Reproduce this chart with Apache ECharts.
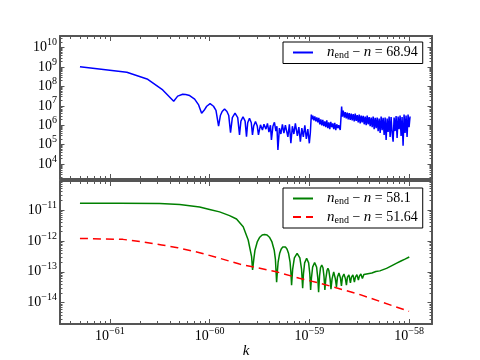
<!DOCTYPE html>
<html>
<head>
<meta charset="utf-8">
<script src="https://cdn.jsdelivr.net/npm/echarts@6/dist/echarts.min.js"></script>
<style>html,body{margin:0;padding:0;background:#fff;}#c{width:480px;height:360px;}</style>
</head>
<body>
<div id="c"></div>
<script>
// ---- Data (log10 values) ----
// x: log10(k), y: log10(value)
var blueSeries = [
 [-61.30,9.02],[-60.83,8.73],[-60.62,8.37],[-60.47,7.82],[-60.36,7.24],[-60.32,7.50],[-60.27,7.60],
 [-60.24,7.58],[-60.20,7.53],[-60.15,7.35],[-60.11,7.05],[-60.08,6.62],
 [-60.055,6.77],[-60.029,6.98],[-59.995,7.11],[-59.961,6.98],[-59.936,6.77],[-59.91,5.96],
 [-59.892,6.50],[-59.874,6.71],[-59.85,6.84],[-59.826,6.71],[-59.808,6.50],[-59.79,5.62],
 [-59.772,6.39],[-59.745,6.62],[-59.718,6.39],[-59.70,5.50],
 [-59.686,6.21],[-59.665,6.44],[-59.644,6.21],[-59.63,5.41],
 [-59.618,6.13],[-59.60,6.36],[-59.582,6.13],[-59.57,5.50],
 [-59.558,5.96],[-59.54,6.19],[-59.522,5.96],[-59.51,5.50],[-59.49,6.02],
 [-59.47,5.75],[-59.455,6.05],[-59.435,5.80],[-59.42,6.10],[-59.405,5.65],[-59.39,6.00],[-59.38,5.24],
 [-59.365,5.95],[-59.35,6.15],[-59.335,5.70],[-59.325,5.95],[-59.315,4.73],[-59.30,5.85],[-59.285,5.55],
 [-59.27,6.05],[-59.255,5.60],[-59.24,6.00],[-59.23,5.93],[-59.215,5.40],[-59.20,6.05],[-59.185,5.07],
 [-59.17,5.95],[-59.155,5.55],[-59.14,6.10],[-59.12,5.45],[-59.105,5.90],[-59.09,5.15],[-59.075,5.85],
 [-59.06,5.40],[-59.045,6.00],[-59.03,5.30],[-59.015,5.80],[-59.00,5.07],[-58.99,5.60],
 [-58.98,6.55],[-58.975,6.30],[-58.965,6.50],[-58.955,6.25],[-58.945,6.45],[-58.935,6.20],[-58.925,6.40],
 [-58.915,6.15],[-58.905,6.38],[-58.895,6.05],[-58.885,6.30],[-58.875,6.00],[-58.865,6.28],[-58.855,5.95],
 [-58.845,6.20],[-58.835,5.90],[-58.825,6.25],[-58.815,5.85],[-58.805,6.15],[-58.795,5.80],[-58.785,6.18],
 [-58.775,5.90],[-58.765,6.10],[-58.755,5.80],[-58.745,6.12],[-58.735,5.75],[-58.725,6.05],[-58.715,5.85],
 [-58.705,6.00],[-58.69,5.76],
 [-58.676,6.96],[-58.67,6.45],[-58.66,6.75],[-58.65,6.40],[-58.64,6.68],[-58.63,6.35],[-58.62,6.65],
 [-58.61,6.30],[-58.60,6.62],[-58.59,6.28],[-58.58,6.60],[-58.57,6.25],[-58.56,6.58],[-58.55,6.20],
 [-58.54,6.60],[-58.53,6.22],[-58.52,6.52],[-58.51,6.15],[-58.50,6.55],[-58.49,6.10],[-58.48,6.50],
 [-58.47,6.15],[-58.46,6.48],[-58.45,6.05],[-58.44,6.45],[-58.43,6.00],[-58.42,6.50],[-58.41,6.05],
 [-58.40,6.42],[-58.39,5.95],[-58.38,6.40],[-58.37,5.90],[-58.36,6.45],[-58.35,5.80],[-58.34,6.38],
 [-58.33,5.85],[-58.32,6.40],[-58.31,5.70],[-58.30,6.35],[-58.29,5.60],[-58.28,6.45],[-58.27,5.75],
 [-58.26,6.38],[-58.25,5.50],[-58.24,6.40],[-58.23,5.24],[-58.22,6.35],[-58.21,5.65],[-58.20,6.45],
 [-58.19,5.40],[-58.18,6.42],[-58.17,5.60],[-58.16,5.15],[-58.15,6.40],[-58.14,5.70],[-58.13,6.48],
 [-58.12,5.35],[-58.11,6.45],[-58.10,5.80],[-58.09,6.50],[-58.08,5.45],[-58.07,6.42],[-58.06,4.95],
 [-58.05,6.55],[-58.04,5.60],[-58.03,6.50],[-58.02,5.40],[-58.01,6.55],[-58.00,5.90],[-57.99,6.45]
];
var greenSeries = [
 [-61.30,-10.78],[-60.90,-10.78],[-60.50,-10.79],[-60.30,-10.82],[-60.10,-10.90],[-60.00,-10.98],
 [-59.90,-11.06],[-59.80,-11.18],[-59.73,-11.29],[-59.663,-11.54],[-59.613,-11.97],[-59.579,-12.51],
 [-59.569,-12.94],
 [-59.557,-12.60],[-59.545,-12.30],[-59.521,-12.02],[-59.497,-11.88],[-59.473,-11.81],[-59.449,-11.79],
 [-59.424,-11.81],[-59.400,-11.88],[-59.376,-12.02],[-59.352,-12.30],[-59.340,-12.60],[-59.328,-13.34],
 [-59.3205,-12.99],[-59.313,-12.69],[-59.298,-12.41],[-59.283,-12.27],[-59.268,-12.20],[-59.253,-12.18],
 [-59.238,-12.20],[-59.223,-12.27],[-59.208,-12.41],[-59.193,-12.69],[-59.1855,-12.99],[-59.178,-13.43],
 [-59.167,-12.91],[-59.150,-12.55],[-59.1225,-12.40],[-59.095,-12.55],[-59.078,-12.91],[-59.067,-13.53],
 [-59.059,-13.07],[-59.047,-12.71],[-59.027,-12.56],[-59.007,-12.71],[-58.995,-13.07],[-58.987,-13.59],
 [-58.979,-13.21],[-58.967,-12.85],[-58.947,-12.70],[-58.927,-12.85],[-58.915,-13.21],[-58.907,-13.66],
 [-58.8975,-13.13],[-58.888,-12.87],[-58.8755,-12.78],[-58.863,-12.87],[-58.8535,-13.13],[-58.844,-13.59],
 [-58.835,-13.23],[-58.823,-12.96],[-58.8135,-12.89],[-58.804,-12.96],[-58.792,-13.23],[-58.783,-13.56],
 [-58.772,-13.23],[-58.7555,-13.00],[-58.739,-13.23],[-58.728,-13.49],
 [-58.718,-13.17],[-58.703,-13.04],[-58.688,-13.20],[-58.678,-13.46],
 [-58.668,-13.17],[-58.653,-13.07],[-58.638,-13.23],[-58.628,-13.43],[-58.618,-13.17],[-58.603,-13.10],
 [-58.588,-13.36],[-58.578,-13.17],[-58.563,-13.10],[-58.548,-13.33],[-58.538,-13.17],[-58.523,-13.09],
 [-58.508,-13.27],[-58.498,-13.14],[-58.483,-13.07],[-58.468,-13.22],[-58.453,-13.09],[-58.433,-13.14],
 [-58.413,-13.06],[-58.373,-13.04],[-58.333,-12.99],[-58.293,-12.97],[-58.226,-12.89],[-58.172,-12.80],
 [-58.124,-12.72],[-58.081,-12.65],[-58.041,-12.59],[-57.998,-12.52]
];
var redSeries = [
 [-61.30,-11.92],[-60.87,-11.95],[-60.67,-12.03],[-60.48,-12.13],[-60.32,-12.22],[-60.10,-12.38],
 [-59.90,-12.56],[-59.70,-12.75],[-59.33,-13.00],[-59.10,-13.21],[-58.89,-13.37],[-58.49,-13.74],
 [-58.00,-14.28]
];
var seriesNames = ['s1', 's2', 's3'];
var legendValues = { s1: '68.94', s2: '58.1', s3: '51.64' };
var xMajorTicks = [-61, -60, -59, -58];
var topYMajorTicks = [4, 5, 6, 7, 8, 9, 10];
var botYMajorTicks = [-14, -13, -12, -11];

// ---- Layout / style ----
var X_MIN = -61.5, X_MAX = -57.77;
var TOP_Y = [3.23, 10.60];
var BOT_Y = [-14.69, -10.06];
var SERIF = 'Liberation Serif';
var SPINE = '#555';

function minorTicks(lo, hi) {
  var out = [];
  for (var n = Math.floor(lo) - 1; n <= Math.ceil(hi); n++) {
    for (var m = 2; m <= 9; m++) {
      var v = n + Math.log10(m);
      if (v > lo && v < hi) out.push(v);
    }
  }
  return out;
}
function fmt(v) {
  var e = Math.round(v);
  return '{b|10}{s|' + (e < 0 ? '\u2212' + (-e) : String(e)) + '}';
}
var RICH = {
  b: { fontFamily: SERIF, fontSize: 14, lineHeight: 20, color: '#000' },
  s: { fontFamily: SERIF, fontSize: 10, lineHeight: 9, verticalAlign: 'top', color: '#000' }
};

function xAxis(grid, pos, minor, labels) {
  return {
    type: 'value', gridIndex: grid, position: pos, min: X_MIN, max: X_MAX,
    axisLine: { show: !minor, onZero: false, lineStyle: { color: SPINE, width: 2 } },
    axisTick: { show: true, inside: true, length: minor ? 3 : 5,
      customValues: minor ? minorTicks(X_MIN, X_MAX) : xMajorTicks,
      lineStyle: { color: SPINE, width: 1 } },
    axisLabel: { show: !!labels, customValues: xMajorTicks, formatter: fmt, margin: 2, rich: RICH },
    splitLine: { show: false },
    name: labels ? 'k' : '', nameLocation: 'middle', nameGap: 18,
    nameTextStyle: { fontFamily: SERIF, fontStyle: 'italic', fontSize: 15, color: '#000' }
  };
}
function yAxis(grid, pos, minor, labels, range, major) {
  return {
    type: 'value', gridIndex: grid, position: pos, min: range[0], max: range[1],
    axisLine: { show: !minor, onZero: false, lineStyle: { color: SPINE, width: 2 } },
    axisTick: { show: true, inside: true, length: minor ? 2.5 : 4.5,
      customValues: minor ? minorTicks(range[0], range[1]) : major,
      lineStyle: { color: SPINE, width: 1 } },
    axisLabel: { show: !!labels, customValues: major, formatter: fmt, margin: 3, rich: RICH },
    splitLine: { show: false }
  };
}

var xAxes = [
  xAxis(0, 'bottom', false, false), xAxis(0, 'bottom', true, false),
  xAxis(0, 'top', false, false), xAxis(0, 'top', true, false),
  xAxis(1, 'bottom', false, true), xAxis(1, 'bottom', true, false),
  xAxis(1, 'top', false, false), xAxis(1, 'top', true, false)
];
var yAxes = [
  yAxis(0, 'left', false, true, TOP_Y, topYMajorTicks), yAxis(0, 'left', true, false, TOP_Y, topYMajorTicks),
  yAxis(0, 'right', false, false, TOP_Y, topYMajorTicks), yAxis(0, 'right', true, false, TOP_Y, topYMajorTicks),
  yAxis(1, 'left', false, true, BOT_Y, botYMajorTicks), yAxis(1, 'left', true, false, BOT_Y, botYMajorTicks),
  yAxis(1, 'right', false, false, BOT_Y, botYMajorTicks), yAxis(1, 'right', true, false, BOT_Y, botYMajorTicks)
];

var LEG_RICH = {
  sp: { width: 9, fontSize: 10 },
  i: { fontFamily: SERIF, fontStyle: 'italic', fontSize: 15, lineHeight: 16, color: '#000' },
  sb: { fontFamily: SERIF, fontSize: 10, lineHeight: 10, verticalAlign: 'bottom', color: '#000' },
  r: { fontFamily: SERIF, fontSize: 14, lineHeight: 16, color: '#000' }
};
function legFmt(name) {
  return '{sp| }{i|n}{sb|end}{r| \u2212 }{i|n}{r| = ' + legendValues[name] + '}';
}
function legend(data, top) {
  return {
    data: data, left: 283, top: top, orient: 'vertical',
    padding: [3, 5, 3, 9], itemWidth: 20, itemHeight: 14, itemGap: 3,
    borderColor: '#000', borderWidth: 1, backgroundColor: '#fff',
    itemStyle: { opacity: 0, borderWidth: 0 },
    selectedMode: false, formatter: legFmt, textStyle: { rich: LEG_RICH }
  };
}

var chart = echarts.init(document.getElementById('c'), null, { renderer: 'canvas' });
chart.setOption({
  animation: false,
  backgroundColor: '#fff',
  grid: [
    { left: 60, top: 36, width: 372, height: 143 },
    { left: 60, top: 181, width: 372, height: 143 }
  ],
  xAxis: xAxes,
  yAxis: yAxes,
  legend: [legend([seriesNames[0]], 42), legend([seriesNames[1], seriesNames[2]], 188)],
  series: [
    { name: seriesNames[0], type: 'line', xAxisIndex: 0, yAxisIndex: 0, data: blueSeries,
      showSymbol: false, symbol: 'none', lineStyle: { color: '#0000ff', width: 1.5 }, itemStyle: { color: '#0000ff' } },
    { name: seriesNames[1], type: 'line', xAxisIndex: 4, yAxisIndex: 4, data: greenSeries,
      showSymbol: false, symbol: 'none', lineStyle: { color: '#008000', width: 1.5 }, itemStyle: { color: '#008000' } },
    { name: seriesNames[2], type: 'line', xAxisIndex: 4, yAxisIndex: 4, data: redSeries,
      showSymbol: false, symbol: 'none', lineStyle: { color: '#ff0000', width: 1.5, type: [8, 5] }, itemStyle: { color: '#ff0000' } }
  ]
});
</script>
</body>
</html>
